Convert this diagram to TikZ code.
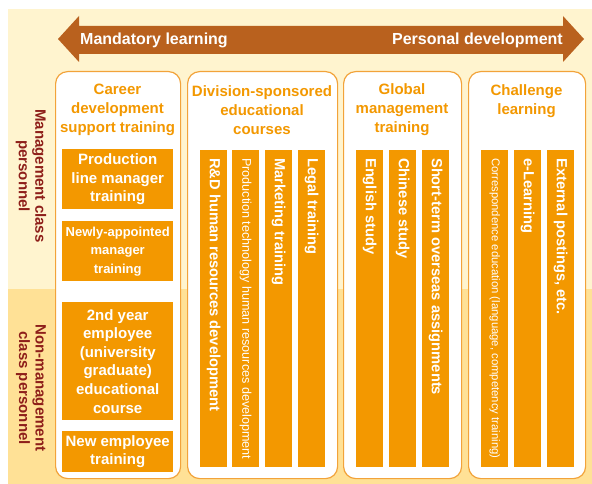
\documentclass[tikz,border=0pt]{standalone}
\usepackage{fontspec}
\setmainfont{Liberation Sans}
\definecolor{creamtop}{HTML}{FFF4CF}
\definecolor{creambot}{HTML}{FFE196}
\definecolor{arrowc}{HTML}{B9611E}
\definecolor{barc}{HTML}{F39800}
\definecolor{borderc}{HTML}{F2A33A}
\definecolor{titlec}{HTML}{F39800}
\definecolor{rowc}{HTML}{8E1F1A}
\tikzset{
  colbox/.style={draw=borderc, line width=1.2pt, rounded corners=12pt, fill=white, anchor=north west, inner sep=0pt},
  orbox/.style={fill=barc, anchor=north west, inner sep=0pt},
  boxtext/.style={text=white, align=center, inner sep=0pt, font=\bfseries\fontsize{15}{18.8}\selectfont},
  coltitle/.style={text=titlec, align=center, inner sep=0pt, font=\bfseries\fontsize{15}{19}\selectfont},
  bartext/.style={rotate=-90, anchor=west, text=white, inner sep=0pt, font=\bfseries\fontsize{14.7}{17}\selectfont},
  smalltext/.style={rotate=-90, anchor=west, text=white, inner sep=0pt},
  rowlabel/.style={rotate=-90, text=rowc, align=center, inner sep=0pt, font=\bfseries\fontsize{15}{16.5}\selectfont},
  arrowtext/.style={text=white, inner sep=0pt, font=\bfseries\fontsize{16}{18}\selectfont}
}
\begin{document}
\begin{tikzpicture}[x=1pt,y=-1pt]
\useasboundingbox (0,0) rectangle (592,484);
\fill[white] (0,0) rectangle (592,484);
\fill[creamtop] (8,9) rectangle (592,289);
\fill[creambot] (8,289) rectangle (592,484);
% arrow
\fill[arrowc] (58,39) -- (79,16) -- (79,26) -- (563,26) -- (563,16) -- (584,39) -- (563,62) -- (563,54) -- (79,54) -- (79,62) -- cycle;
\node[arrowtext, anchor=west] (mand) at (80,40) {Mandatory learning};
\node[arrowtext, anchor=east] (pers) at (563,40) {Personal development};
% row labels
\node[rowlabel] (mgmt) at (31,176) {Management class\\personnel};
\node[rowlabel] (nonmgmt) at (31,388) {Non-management\\class personnel};
% column boxes
\node[colbox, minimum width=125pt, minimum height=407pt] (career) at (55,71) {};
\node[colbox, minimum width=150pt, minimum height=407pt] (division) at (187,71) {};
\node[colbox, minimum width=118pt, minimum height=407pt] (global) at (343,71) {};
\node[colbox, minimum width=117pt, minimum height=407pt] (challenge) at (468,71) {};
% titles
\node[coltitle] (t1) at (117.5,110) {Career\\development\\support training};
\node[coltitle] (t2) at (262,110) {Division-sponsored\\educational\\courses};
\node[coltitle] (t3) at (402,110) {Global\\management\\training};
\node[coltitle] (t4) at (526.5,101) {Challenge\\learning};
% career boxes
\node[orbox, minimum width=111pt, minimum height=60pt] (c1) at (62,149) {};
\node[boxtext] at (c1.center) {Production\\line manager\\training};
\node[orbox, minimum width=111pt, minimum height=60pt] (c2) at (62,221) {};
\node[boxtext, font=\bfseries\fontsize{13}{18.5}\selectfont] at (c2.center) {Newly-appointed\\manager\\training};
\node[orbox, minimum width=111pt, minimum height=118pt] (c3) at (62,302) {};
\node[boxtext, font=\bfseries\fontsize{15}{18.6}\selectfont] at (c3.center) {2nd year\\employee\\(university\\graduate)\\educational\\course};
\node[orbox, minimum width=111pt, minimum height=41pt] (c4) at (62,431) {};
\node[boxtext] at (c4.center) {New employee\\training};
% division bars
\node[orbox, minimum width=27pt, minimum height=317pt] (d1) at (200,150) {};
\node[orbox, minimum width=27pt, minimum height=317pt] (d2) at (232,150) {};
\node[orbox, minimum width=27pt, minimum height=317pt] (d3) at (265,150) {};
\node[orbox, minimum width=27pt, minimum height=317pt] (d4) at (298,150) {};
\node[bartext] at ([yshift=-8pt]d1.north) {R\&D human resources development};
\node[smalltext, font=\fontsize{12.6}{14}\selectfont] at ([yshift=-8pt]d2.north) {Production technology human resources development};
\node[bartext] at ([yshift=-8pt]d3.north) {Marketing training};
\node[bartext] at ([yshift=-8pt]d4.north) {Legal training};
% global bars
\node[orbox, minimum width=27pt, minimum height=317pt] (g1) at (356,150) {};
\node[orbox, minimum width=27pt, minimum height=317pt] (g2) at (389,150) {};
\node[orbox, minimum width=27pt, minimum height=317pt] (g3) at (422,150) {};
\node[bartext] at ([yshift=-8pt]g1.north) {English study};
\node[bartext] at ([yshift=-8pt]g2.north) {Chinese study};
\node[bartext] at ([yshift=-8pt]g3.north) {Short-term overseas assignments};
% challenge bars
\node[orbox, minimum width=27pt, minimum height=317pt] (h1) at (481,150) {};
\node[orbox, minimum width=27pt, minimum height=317pt] (h2) at (514,150) {};
\node[orbox, minimum width=27pt, minimum height=317pt] (h3) at (547,150) {};
\node[smalltext, font=\fontsize{11.3}{13}\selectfont] at ([yshift=-8pt]h1.north) {Correspondence education (language, competency training)};
\node[bartext] at ([yshift=-8pt]h2.north) {e-Learning};
\node[bartext] at ([yshift=-8pt]h3.north) {External postings, etc.};
\end{tikzpicture}
\end{document}
